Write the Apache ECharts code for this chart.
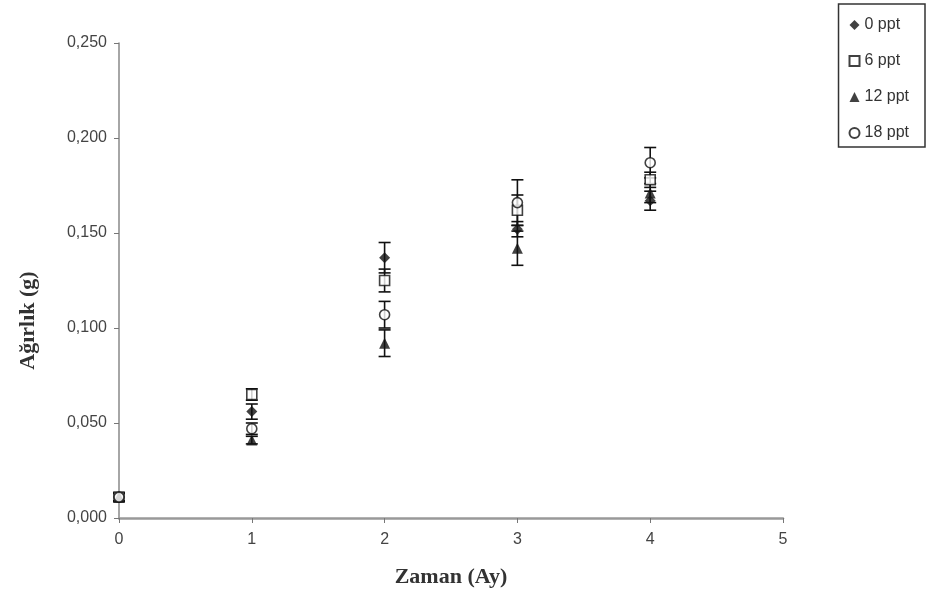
<!DOCTYPE html>
<html><head><meta charset="utf-8">
<script src="https://cdn.jsdelivr.net/npm/echarts@6/dist/echarts.min.js"></script>
<style>html,body{margin:0;padding:0;background:#fff}#c{width:927px;height:603px}</style>
</head><body><div id="c"></div>
<script>
var months = [0, 1, 2, 3, 4];
var seriesNames = ['0 ppt', '6 ppt', '12 ppt', '18 ppt'];
var ppt0 = [0.011, 0.056, 0.137, 0.152, 0.167];
var ppt6 = [0.011, 0.065, 0.125, 0.162, 0.178];
var ppt12 = [0.011, 0.041, 0.092, 0.142, 0.171];
var ppt18 = [0.011, 0.047, 0.107, 0.166, 0.187];
var err0 = [0.002, 0.004, 0.008, 0.004, 0.005];
var err6 = [0.002, 0.003, 0.006, 0.008, 0.004];
var err12 = [0.002, 0.002, 0.007, 0.009, 0.005];
var err18 = [0.002, 0.003, 0.007, 0.012, 0.008];
var yTicks = [0, 0.05, 0.1, 0.15, 0.2, 0.25];

var values = [ppt0, ppt6, ppt12, ppt18];
var errs = [err0, err6, err12, err18];
var symbols = ['diamond', 'rect', 'triangle', 'circle'];
var filled = [true, false, true, false];
var sizes = [11, 10, 11, 10];

var series = [];
values.forEach(function (vals, i) {
  series.push({
    type: 'custom', name: seriesNames[i] + '_err', silent: true, z: 2,
    data: months.map(function (m, k) { return [m, vals[k] - errs[i][k], vals[k] + errs[i][k]]; }),
    renderItem: function (params, api) {
      var lo = api.coord([api.value(0), api.value(1)]);
      var hi = api.coord([api.value(0), api.value(2)]);
      var w = 6;
      var st = { stroke: '#111', lineWidth: 1.6 };
      return { type: 'group', children: [
        { type: 'line', shape: { x1: lo[0], y1: lo[1], x2: hi[0], y2: hi[1] }, style: st },
        { type: 'line', shape: { x1: lo[0] - w, y1: lo[1], x2: lo[0] + w, y2: lo[1] }, style: st },
        { type: 'line', shape: { x1: hi[0] - w, y1: hi[1], x2: hi[0] + w, y2: hi[1] }, style: st }
      ]};
    }
  });
  series.push({
    type: 'scatter', name: seriesNames[i], z: 3,
    symbol: symbols[i], symbolSize: sizes[i],
    itemStyle: filled[i] ? { color: '#111' } : { color: '#fff', borderColor: '#111', borderWidth: 1.6 },
    data: months.map(function (m, k) { return [m, vals[k]]; })
  });
});

var chart = echarts.init(document.getElementById('c'));
chart.setOption({
  animation: false,
  backgroundColor: '#fff',
  grid: { left: 119, right: 144, top: 43, bottom: 85 },
  legend: {
    orient: 'vertical', right: 2, top: 4,
    data: seriesNames,
    itemWidth: 10, itemHeight: 10, itemGap: 20,
    padding: [13, 16, 6, 10],
    borderColor: '#333', borderWidth: 1.5,
    textStyle: { fontFamily: 'Liberation Sans', fontSize: 16, color: '#333' }
  },
  xAxis: {
    type: 'value', min: 0, max: 5, interval: 1,
    name: 'Zaman (Ay)', nameLocation: 'middle', nameGap: 48,
    nameTextStyle: { fontFamily: 'Liberation Serif', fontWeight: 'bold', fontSize: 22, color: '#333' },
    axisLine: { lineStyle: { color: '#999', width: 2.5 } },
    axisTick: { show: true, length: 5, lineStyle: { color: '#777' } },
    axisLabel: { fontFamily: 'Liberation Sans', fontSize: 16, color: '#444', margin: 14 },
    splitLine: { show: false }
  },
  yAxis: {
    type: 'value', min: 0, max: 0.25, interval: 0.05,
    name: 'Ağırlık (g)', nameLocation: 'middle', nameGap: 80, nameRotate: 90,
    nameTextStyle: { fontFamily: 'Liberation Serif', fontWeight: 'bold', fontSize: 22, color: '#333', padding: [0, 80, 0, 0] },
    axisLine: { show: true, lineStyle: { color: '#888', width: 1.5 } },
    axisTick: { show: true, length: 5, lineStyle: { color: '#777' } },
    axisLabel: {
      fontFamily: 'Liberation Sans', fontSize: 16, color: '#444', margin: 12,
      formatter: function (v) { return v.toFixed(3).replace('.', ','); }
    },
    splitLine: { show: false }
  },
  series: series
});
</script>
</body></html>
